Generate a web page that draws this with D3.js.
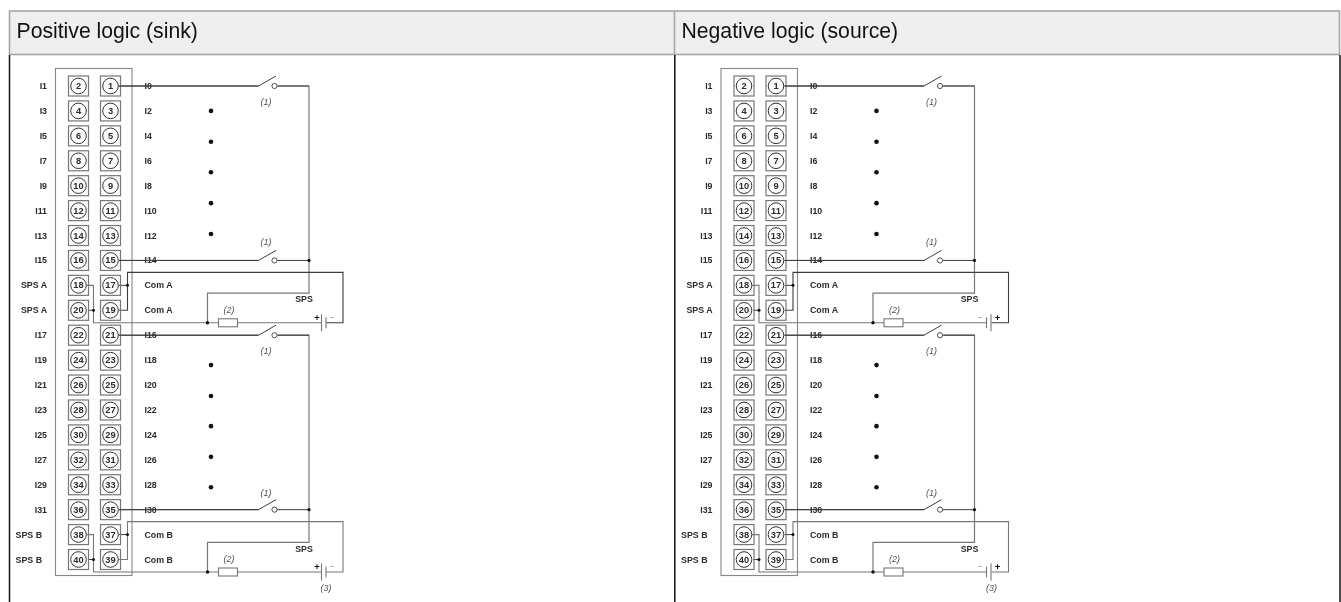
<!DOCTYPE html>
<html>
<head>
<meta charset="utf-8">
<script src="https://cdn.jsdelivr.net/npm/d3@7"></script>
<style>html,body{margin:0;padding:0;background:#fff}svg{display:block;font-family:"Liberation Sans",Arial,sans-serif}.soft{filter:blur(0.3px)}</style>
</head>
<body>
<div id="chart"></div>
<script>
const panelTitles = ["Positive logic (sink)", "Negative logic (source)"];
const leftLabels = ["I1","I3","I5","I7","I9","I11","I13","I15","SPS A","SPS A","I17","I19","I21","I23","I25","I27","I29","I31","SPS B","SPS B"];
const rightLabels = ["I0","I2","I4","I6","I8","I10","I12","I14","Com A","Com A","I16","I18","I20","I22","I24","I26","I28","I30","Com B","Com B"];
const rowIndex = d3.range(20);
const dotRows = [1, 2.24, 3.46, 4.7, 5.94, 11.2, 12.44, 13.65, 14.88, 16.1];
const switchRows = [0, 7, 10, 17];
const switchNoteRows = [0.64, 6.24, 10.64, 16.32];
const spsGroups = [{top: 8, sub: "A"}, {top: 18, sub: "B"}];
const batteryPolarity = [{left: "+", right: "\u2212"}, {left: "\u2212", right: "+"}];

const W = 1341, H = 602;
const svg = d3.select("#chart").append("svg").attr("width", W).attr("height", H);
const rowY = d3.scaleLinear().domain([0, 19]).range([86, 559.5]);
const panelX = d3.scaleOrdinal().domain([0, 1]).range([0, 665.5]);
const wire = "#3d3d3d", grey = "#777", frame = "#888", ink = "#2b2b2b";
const line = d3.line();

// table
svg.append("rect").attr("x", 9.5).attr("y", 11).attr("width", 1330).attr("height", 43.5)
  .attr("fill", "#efefef").attr("stroke", "#a6a6a6").attr("stroke-width", 1.6);
svg.append("line").attr("x1", 674.5).attr("x2", 674.5).attr("y1", 11).attr("y2", 54.5)
  .attr("stroke", "#a6a6a6").attr("stroke-width", 1.6);
[9.5, 674.8, 1340].forEach(x => svg.append("line").attr("x1", x).attr("x2", x).attr("y1", 55).attr("y2", H)
  .attr("stroke", "#111").attr("stroke-width", 1.5));

panelTitles.forEach((t, p) => {
  svg.append("text").attr("class", "soft").attr("x", p ? 681.5 : 16.5).attr("y", 38).attr("font-size", 21.2).attr("fill", "#111").text(t);
  const g = svg.append("g").attr("class", "soft").attr("transform", `translate(${panelX(p)},0)`);
  const path = (pts, color = wire, w = 1) => g.append("path").attr("d", line(pts)).attr("fill", "none")
    .attr("stroke", color).attr("stroke-width", w);
  const dot = (x, y, r = 1.5) => g.append("circle").attr("cx", x).attr("cy", y).attr("r", r).attr("fill", "#111");
  const note = (s, x, y) => g.append("text").attr("x", x).attr("y", y).attr("text-anchor", "middle")
    .attr("dominant-baseline", "central").attr("font-size", 9).attr("font-style", "italic").attr("fill", "#555").text(s);

  // terminal block
  g.append("rect").attr("x", 55.5).attr("y", 68.5).attr("width", 76.5).attr("height", 507)
    .attr("fill", "none").attr("stroke", frame).attr("stroke-width", 1.1);

  // wires
  const y7 = rowY(7), y17 = rowY(17);
  path([[278, rowY(0)], [309, rowY(0)], [309, y7]], grey, 1.2);
  path([[278, rowY(10)], [309, rowY(10)], [309, y17]], grey, 1.2);

  spsGroups.forEach(({top}) => {
    const yA = rowY(top), yB = rowY(top + 1);
    const yTop = yA - 13, yLow = yB + 12.5, ySps = yA + 7.8;
    const railTop = top === 8 ? y7 : y17;
    path([[309, railTop], [309, ySps], [207.5, ySps], [207.5, yLow]], grey, 1.2);
    path([[119, yB], [127.5, yB], [127.5, yTop], [343, yTop], [343, yLow], [326, yLow]], top === 8 ? wire : grey, 1.1);
    path([[119, yA], [127.5, yA]]);
    path([[86, yA], [93.5, yA], [93.5, yLow], [218.5, yLow]], grey, 1.1);
    path([[88, yB], [93.5, yB]]);
    path([[237.5, yLow], [321.5, yLow]], grey, 1.1);
    dot(127.5, yA, 1.5); dot(93.5, yB, 1.5); dot(207.5, yLow, 1.7);
    g.append("rect").attr("x", 218.5).attr("y", yLow - 4).attr("width", 19).attr("height", 8)
      .attr("fill", "#fff").attr("stroke", grey).attr("stroke-width", 1.1);
    const [tall, short] = p === 0 ? [321.5, 326] : [325.5, 321];
    path([[tall, yLow - 8.5], [tall, yLow + 8.5]], grey, 1.1);
    path([[short, yLow - 5.5], [short, yLow + 5.5]], grey, 1.1);
    const pol = batteryPolarity[p];
    g.append("text").attr("x", p ? 314.5 : 317).attr("y", yLow - 5.5).attr("text-anchor", "middle").attr("dominant-baseline", "central")
      .attr("font-size", pol.left === "+" ? 9.5 : 7.5).attr("font-weight", pol.left === "+" ? "bold" : "normal")
      .attr("fill", pol.left === "+" ? "#111" : "#666").text(pol.left);
    g.append("text").attr("x", 332).attr("y", yLow - 5.5).attr("text-anchor", "middle").attr("dominant-baseline", "central")
      .attr("font-size", pol.right === "+" ? 9.5 : 7.5).attr("font-weight", pol.right === "+" ? "bold" : "normal")
      .attr("fill", pol.right === "+" ? "#111" : "#666").text(pol.right);
    note("(2)", 229, yLow - 13);
    g.append("text").attr("x", 304).attr("y", yA + 14).attr("text-anchor", "middle").attr("dominant-baseline", "central")
      .attr("font-size", 8.8).attr("font-weight", "bold").attr("fill", ink).text("SPS");
  });
  note("(3)", 326, rowY(19) + 28.5);

  // switches
  switchRows.forEach((r, i) => {
    const y = rowY(r);
    path([[119, y], [258.5, y], [276, y - 10]]);
    path([[277, y], [309, y]]);
    g.append("circle").attr("cx", 274.5).attr("cy", y).attr("r", 2.6).attr("fill", "#fff").attr("stroke", wire).attr("stroke-width", 0.9);
    if (r === 7 || r === 17) dot(309, y, 1.6);
    note("(1)", 266, rowY(switchNoteRows[i]));
  });

  dotRows.forEach(r => dot(211, rowY(r), 2.3));

  // terminals and labels
  const rows = g.selectAll("g.row").data(rowIndex).join("g").attr("class", "row");
  [[78.5, i => 2 * i + 2], [110.5, i => 2 * i + 1]].forEach(([cx, num]) => {
    rows.append("rect").attr("x", cx - 10).attr("y", i => rowY(i) - 10).attr("width", 20).attr("height", 20)
      .attr("fill", "none").attr("stroke", "#777").attr("stroke-width", 1.2);
    rows.append("circle").attr("cx", cx).attr("cy", i => rowY(i)).attr("r", 7.8)
      .attr("fill", "#fff").attr("stroke", "#333").attr("stroke-width", 1);
    rows.append("text").attr("x", cx).attr("y", i => rowY(i)).attr("text-anchor", "middle").attr("dominant-baseline", "central")
      .attr("font-size", 9.3).attr("font-weight", "bold").attr("fill", ink).text(num);
  });
  rows.append("text").attr("x", i => leftLabels[i].startsWith("SPS B") ? 42 : 47).attr("y", i => rowY(i)).attr("text-anchor", "end").attr("dominant-baseline", "central")
    .attr("font-size", 8.8).attr("font-weight", "bold").attr("fill", ink).text(i => leftLabels[i]);
  rows.append("text").attr("x", 144.5).attr("y", i => rowY(i)).attr("dominant-baseline", "central")
    .attr("font-size", 8.8).attr("font-weight", "bold").attr("fill", ink).text(i => rightLabels[i]);
  switchRows.forEach(r => path([[119, rowY(r)], [258.5, rowY(r)]]));
});
</script>
</body>
</html>
